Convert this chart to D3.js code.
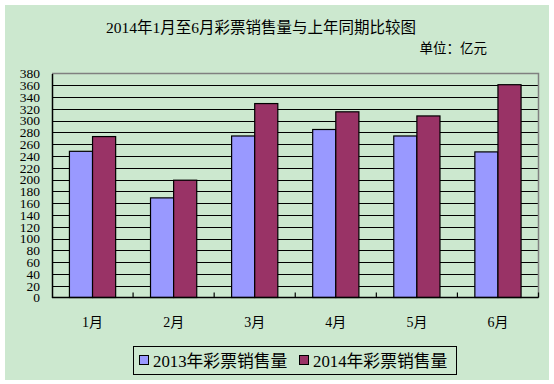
<!DOCTYPE html>
<html><head><meta charset="utf-8">
<script src="https://cdn.jsdelivr.net/npm/d3@7"></script>
<style>html,body{margin:0;padding:0;background:#fff;}svg{display:block;}</style>
</head><body><svg id="c" width="554" height="384"></svg>
<script>
const categories = ["1月","2月","3月","4月","5月","6月"];
const seriesNames = ["2013年彩票销售量","2014年彩票销售量"];
const sales2013 = [248, 169, 274, 285, 274, 247];
const sales2014 = [273, 199, 329, 315, 308, 361];
const yTicks = d3.range(0, 381, 20);

const font = "'Liberation Serif','Noto Sans CJK SC',serif";
const colors = ["#9999FF", "#993366"];
const svg = d3.select("#c");
svg.append("rect").attr("x",5).attr("y",5).attr("width",544).attr("height",375).attr("fill","#CCE8CF");

const L=52, R=538.5, T=73.5, B=297.5;
const x = d3.scaleBand().domain(categories).range([L,R]).paddingInner(0.43).paddingOuter(0.215);
const xs = d3.scaleBand().domain([0,1]).range([0,x.bandwidth()]);
const y = d3.scaleLinear().domain([0,380]).range([B,T]);

// gridlines
svg.append("g").selectAll("line").data(yTicks.filter(d=>d>0&&d<380)).join("line")
  .attr("x1",L).attr("x2",R).attr("y1",d=>Math.round(y(d))+0.5).attr("y2",d=>Math.round(y(d))+0.5)
  .attr("stroke","#000").attr("stroke-width",1);
// plot top/right border
svg.append("path").attr("d",`M${L},${T}H${R}V${B}`).attr("fill","none").attr("stroke","#808080").attr("stroke-width",1.5);

// bars
const data = categories.map((c,i)=>({c, v:[sales2013[i], sales2014[i]]}));
const g = svg.append("g");
data.forEach(d=>{
  d.v.forEach((v,k)=>{
    g.append("rect").attr("x",x(d.c)+xs(k)).attr("y",y(v)).attr("width",xs.bandwidth()).attr("height",B-y(v))
      .attr("fill",colors[k]).attr("stroke","#000").attr("stroke-width",1.2);
  });
});

// y axis
const ya = svg.append("g").attr("transform",`translate(${L},0)`)
  .call(d3.axisLeft(y).tickValues(yTicks).tickSize(0).tickPadding(12));
ya.select(".domain").attr("stroke","#000").attr("stroke-width",1.5);
ya.selectAll("text").attr("font-family",font).attr("font-size",13.5).attr("fill","#000");

// x axis
const xa = svg.append("g").attr("transform",`translate(0,${B})`)
  .call(d3.axisBottom(x).tickSize(0).tickPadding(20));
xa.select(".domain").remove();
xa.selectAll("text").attr("font-family",font).attr("font-size",14).attr("fill","#000");
svg.append("line").attr("x1",L).attr("x2",R).attr("y1",B).attr("y2",B).attr("stroke","#000").attr("stroke-width",1.5);
svg.append("g").selectAll("line").data(d3.range(1,7)).join("line")
  .attr("x1",d=>L+d*(R-L)/6).attr("x2",d=>L+d*(R-L)/6).attr("y1",B).attr("y2",B-5)
  .attr("stroke","#000").attr("stroke-width",1.2);

// title
svg.append("text").attr("x",261).attr("y",33).attr("text-anchor","middle")
  .attr("font-family",font).attr("font-size",15.5).text("2014年1月至6月彩票销售量与上年同期比较图");
svg.append("text").attr("x",487).attr("y",53).attr("text-anchor","end")
  .attr("font-family",font).attr("font-size",13.5).text("单位：亿元");

// legend
svg.append("rect").attr("x",133.5).attr("y",346.5).attr("width",323).attr("height",28)
  .attr("fill","none").attr("stroke","#000").attr("stroke-width",1);
const lx = [139, 299];
seriesNames.forEach((n,k)=>{
  svg.append("rect").attr("x",lx[k]+0.5).attr("y",355.5).attr("width",9).attr("height",9)
    .attr("fill",colors[k]).attr("stroke","#000").attr("stroke-width",1);
  svg.append("text").attr("x",lx[k]+14).attr("y",367).attr("font-family",font).attr("font-size",16.8).text(n);
});
</script></body></html>
